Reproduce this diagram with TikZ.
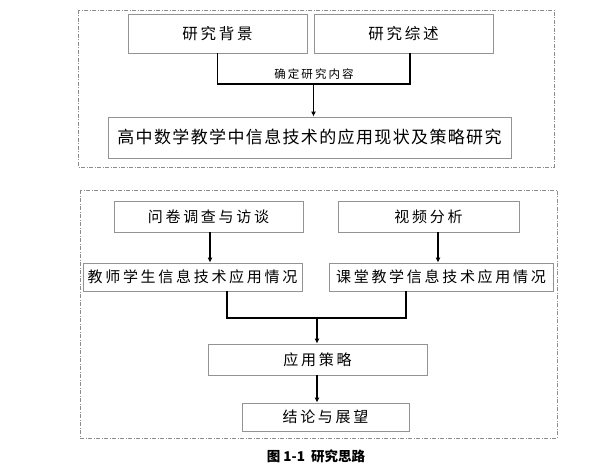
\documentclass[tikz,border=0pt]{standalone}
\usepackage{fontspec}
\usetikzlibrary{arrows.meta}
\newfontfamily\cjk[LetterSpace=18]{Noto Sans CJK SC}
\newfontfamily\cjkmain[LetterSpace=8]{Noto Sans CJK SC}
\newfontfamily\cjkcap{Noto Sans CJK SC}

\begin{document}
\begin{tikzpicture}[x=1pt, y=-1pt,
  box/.style={draw=gray!85, line width=0.8pt, inner sep=0pt, font=\cjk\fontsize{15}{15}\selectfont},
  frame/.style={draw=gray!90, line width=0.6pt, dash pattern=on 4pt off 1.5pt on 1pt off 1.5pt},
  link/.style={line width=1.4pt},
  arr/.style={link, -{Latex[length=5pt, width=5pt]}}]
\useasboundingbox (0,0) rectangle (615,465);

% first stage
\draw[frame] (78,10) rectangle (554,167);
\node[box, minimum width=179, minimum height=39, font=\cjk\fontsize{15.5}{15.5}\selectfont] (bg) at (217.5,33.5) {研究背景};
\node[box, minimum width=179, minimum height=39, font=\cjk\fontsize{15.5}{15.5}\selectfont] (zs) at (403.5,33.5) {研究综述};
\node[box, minimum width=403, minimum height=41, font=\cjkmain\fontsize{17}{17}\selectfont] (main) at (309.5,137.5) {高中数学教学中信息技术的应用现状及策略研究};
\coordinate (j1) at (313.5,84);
\draw[link] (bg.south) |- (j1) -| ([xshift=6.5]zs.south);
\draw[arr] (j1) -- (j1 |- main.north);
\node[font=\cjk\fontsize{11.5}{11.5}\selectfont] (nr) at (314,74.5) {确定研究内容};

% second stage
\draw[frame] (80,190) rectangle (557,438);
\node[box, minimum width=189, minimum height=31] (wj) at (208.5,216.5) {问卷调查与访谈};
\node[box, minimum width=181, minimum height=31] (sp) at (428.5,216.5) {视频分析};
\node[box, minimum width=219, minimum height=28] (js) at (192.5,277) {教师学生信息技术应用情况};
\node[box, minimum width=224, minimum height=28] (kt) at (441,277) {课堂教学信息技术应用情况};
\node[box, minimum width=219, minimum height=31] (cl) at (317.5,359.5) {应用策略};
\node[box, minimum width=167, minimum height=28] (jl) at (325.5,417) {结论与展望};
\draw[arr] ([xshift=1.5]wj.south) -- ([xshift=1.5]wj.south |- js.north);
\draw[arr] ([xshift=9.5]sp.south) -- ([xshift=9.5]sp.south |- kt.north);
\coordinate (j2) at (317,318);
\draw[link] ([xshift=34.5]js.south) |- (j2) -| ([xshift=-35]kt.south);
\draw[arr] (j2) -- (j2 |- cl.north);
\draw[arr] ([xshift=-0.5]cl.south) -- ([xshift=-0.5]cl.south |- jl.north);

\node[font=\cjkcap\bfseries\fontsize{13.5}{13.5}\selectfont] (cap) at (316,456) {图 1-1\ \ 研究思路};
\end{tikzpicture}
\end{document}
